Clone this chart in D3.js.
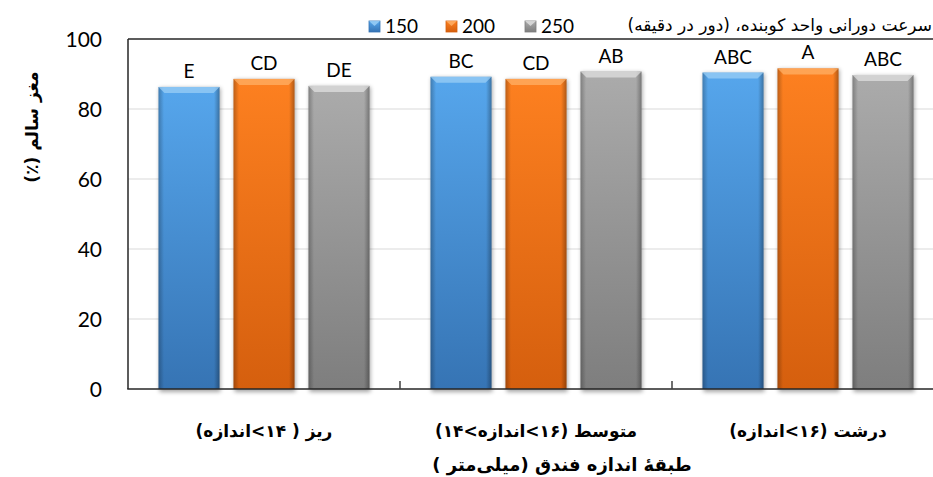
<!DOCTYPE html>
<html>
<head>
<meta charset="utf-8">
<script src="https://cdn.jsdelivr.net/npm/d3@7"></script>
<style>
  body { margin: 0; background: #fff; }
  svg { display: block; }
</style>
</head>
<body>
<div id="chart"></div>
<script>
// chart data
var categories = ["ریز ( ۱۴>اندازه)", "متوسط (۱۶>اندازه>۱۴)", "درشت (۱۶>اندازه)"];
var seriesNames = ["150", "200", "250"];
var values150 = [86.3, 89.2, 90.4];
var values200 = [88.6, 88.6, 91.6];
var values250 = [86.6, 90.7, 89.7];
var letters150 = ["E", "BC", "ABC"];
var letters200 = ["CD", "CD", "A"];
var letters250 = ["DE", "AB", "ABC"];
var yTicks = [0, 20, 40, 60, 80, 100];

var legendTitle = "سرعت دورانی واحد کوبنده، (دور در دقیقه)";
var yTitle = "مغز سالم (٪)";
var xTitle = "طبقهٔ اندازه فندق (میلی‌متر )";

var seriesValues = [values150, values200, values250];
var seriesLetters = [letters150, letters200, letters250];

// colours per series: top, bottom, bevel
var palette = [
    { top: "#56a6ec", bottom: "#3674b4", light: "#9fd2f7" },
    { top: "#fd8020", bottom: "#d55f0e", light: "#ffb36b" },
    { top: "#ababab", bottom: "#7e7e7e", light: "#e2e2e2" }
];

var width = 933, height = 477;
var margin = { left: 128, top: 39, bottom: 88 };
var plotRight = 944;   // the plot runs a bit past the picture edge

var svg = d3.select("#chart").append("svg")
    .attr("width", width)
    .attr("height", height);

var defs = svg.append("defs");

palette.forEach(function (c, i) {
    var g = defs.append("linearGradient")
        .attr("id", "vgrad" + i)
        .attr("x1", 0).attr("y1", 0).attr("x2", 0).attr("y2", 1);
    g.append("stop").attr("offset", "0%").attr("stop-color", c.top);
    g.append("stop").attr("offset", "100%").attr("stop-color", c.bottom);
});

var hg = defs.append("linearGradient")
    .attr("id", "hshade")
    .attr("x1", 0).attr("y1", 0).attr("x2", 1).attr("y2", 0);
hg.append("stop").attr("offset", "0%").attr("stop-color", "#000").attr("stop-opacity", 0.25);
hg.append("stop").attr("offset", "9%").attr("stop-color", "#000").attr("stop-opacity", 0.0);
hg.append("stop").attr("offset", "91%").attr("stop-color", "#000").attr("stop-opacity", 0.0);
hg.append("stop").attr("offset", "100%").attr("stop-color", "#000").attr("stop-opacity", 0.3);

var blur = defs.append("filter").attr("id", "shadow")
    .attr("x", "-20%").attr("y", "-5%").attr("width", "140%").attr("height", "115%");
blur.append("feGaussianBlur").attr("stdDeviation", 2);

var x0 = d3.scaleBand()
    .domain(categories)
    .range([margin.left, plotRight]);

var x1 = d3.scaleBand()
    .domain(seriesNames)
    .range([0, x0.bandwidth()])
    .paddingInner(0.187)
    .paddingOuter(0.407);

var y = d3.scaleLinear()
    .domain([0, 100])
    .range([height - margin.bottom, margin.top]);

// gridlines
svg.append("g")
    .selectAll("line")
    .data(yTicks.filter(function (d) { return d > 0 && d < 100; }))
    .enter().append("line")
    .attr("x1", margin.left).attr("x2", width)
    .attr("y1", function (d) { return y(d); })
    .attr("y2", function (d) { return y(d); })
    .attr("stroke", "#d9d9d9")
    .attr("stroke-width", 1);

// y tick labels
svg.append("g")
    .selectAll("text")
    .data(yTicks)
    .enter().append("text")
    .attr("x", 102)
    .attr("y", function (d) { return y(d); })
    .attr("dy", "0.36em")
    .attr("text-anchor", "end")
    .style("font-family", "Lato, 'Open Sans', sans-serif")
    .style("font-size", "21px")
    .style("fill", "#000")
    .text(function (d) { return d; });

// bars
var groups = svg.append("g").selectAll("g")
    .data(categories)
    .enter().append("g")
    .attr("transform", function (d) { return "translate(" + x0(d) + ",0)"; });

function barData(ci) {
    return seriesNames.map(function (s, si) {
        return { series: s, si: si, value: seriesValues[si][ci], letter: seriesLetters[si][ci] };
    });
}

groups.each(function (cat, ci) {
    var g = d3.select(this);
    var bars = barData(ci);

    // soft shadow
    g.selectAll("rect.shadow")
        .data(bars)
        .enter().append("rect")
        .attr("class", "shadow")
        .attr("x", function (d) { return x1(d.series) + 1; })
        .attr("y", function (d) { return y(d.value) + 1; })
        .attr("width", x1.bandwidth())
        .attr("height", function (d) { return y(0) - y(d.value) + 2; })
        .attr("fill", "#000")
        .attr("opacity", 0.35)
        .attr("filter", "url(#shadow)");

    g.selectAll("rect.bar")
        .data(bars)
        .enter().append("rect")
        .attr("class", "bar")
        .attr("x", function (d) { return x1(d.series); })
        .attr("y", function (d) { return y(d.value); })
        .attr("width", x1.bandwidth())
        .attr("height", function (d) { return y(0) - y(d.value); })
        .attr("fill", function (d) { return "url(#vgrad" + d.si + ")"; });

    g.selectAll("rect.edge")
        .data(bars)
        .enter().append("rect")
        .attr("class", "edge")
        .attr("x", function (d) { return x1(d.series); })
        .attr("y", function (d) { return y(d.value); })
        .attr("width", x1.bandwidth())
        .attr("height", function (d) { return y(0) - y(d.value); })
        .attr("fill", "url(#hshade)");

    // bevel on top of each bar
    g.selectAll("path.bevel")
        .data(bars)
        .enter().append("path")
        .attr("class", "bevel")
        .attr("d", function (d) {
            var xa = x1(d.series), xb = xa + x1.bandwidth(), yt = y(d.value), b = 6;
            return "M" + xa + "," + yt + "L" + xb + "," + yt + "L" + (xb - b) + "," + (yt + b) +
                "L" + (xa + b) + "," + (yt + b) + "Z";
        })
        .attr("fill", function (d) { return palette[d.si].light; })
        .attr("opacity", 0.7);

    // letters above bars
    g.selectAll("text.letter")
        .data(bars)
        .enter().append("text")
        .attr("class", "letter")
        .attr("x", function (d) { return x1(d.series) + x1.bandwidth() / 2; })
        .attr("y", function (d) { return y(d.value) - 9; })
        .attr("text-anchor", "middle")
        .style("font-family", "Lato, 'Open Sans', sans-serif")
        .style("font-size", "19px")
        .style("fill", "#000")
        .text(function (d) { return d.letter; });
});

// frame: top and left, bottom axis
svg.append("line")
    .attr("x1", margin.left).attr("x2", width)
    .attr("y1", y(100)).attr("y2", y(100))
    .attr("stroke", "#262626").attr("stroke-width", 1.5);
svg.append("line")
    .attr("x1", margin.left).attr("x2", margin.left)
    .attr("y1", y(100)).attr("y2", y(0))
    .attr("stroke", "#262626").attr("stroke-width", 1.5);
svg.append("line")
    .attr("x1", margin.left - 0.75).attr("x2", width)
    .attr("y1", y(0)).attr("y2", y(0))
    .attr("stroke", "#262626").attr("stroke-width", 1.5);

// category boundary ticks
svg.append("g").selectAll("line")
    .data(categories.slice(1))
    .enter().append("line")
    .attr("x1", function (d) { return x0(d); })
    .attr("x2", function (d) { return x0(d); })
    .attr("y1", y(0)).attr("y2", y(0) - 8)
    .attr("stroke", "#404040").attr("stroke-width", 1.5);

// category labels
svg.append("g").selectAll("text")
    .data(categories)
    .enter().append("text")
    .attr("x", function (d) { return x0(d) + x0.bandwidth() / 2; })
    .attr("y", 437)
    .attr("direction", "rtl")
    .attr("text-anchor", "middle")
    .style("font-family", "'DejaVu Sans', sans-serif")
    .style("font-weight", "bold")
    .style("font-size", "17px")
    .style("fill", "#000")
    .text(function (d) { return d; });

// x title
svg.append("text")
    .attr("x", 562)
    .attr("y", 471)
    .attr("direction", "rtl")
    .attr("text-anchor", "middle")
    .style("font-family", "'DejaVu Sans', sans-serif")
    .style("font-weight", "bold")
    .style("font-size", "18px")
    .text(xTitle);

// y title
svg.append("text")
    .attr("transform", "translate(38,127) rotate(-90)")
    .attr("direction", "rtl")
    .attr("text-anchor", "middle")
    .style("font-family", "'DejaVu Sans', sans-serif")
    .style("font-weight", "bold")
    .style("font-size", "17px")
    .text(yTitle);

// legend
var legendX = [369, 446, 525];
var legend = svg.append("g").selectAll("g")
    .data(seriesNames)
    .enter().append("g")
    .attr("transform", function (d, i) { return "translate(" + legendX[i] + ",21)"; });

legend.append("rect")
    .attr("width", 11).attr("height", 11)
    .attr("fill", function (d, i) { return "url(#vgrad" + i + ")"; })
    .attr("stroke", function (d, i) { return palette[i].bottom; })
    .attr("stroke-width", 0.8);
legend.append("path")
    .attr("d", "M0,0L11,0L5.5,5Z")
    .attr("fill", function (d, i) { return palette[i].light; })
    .attr("opacity", 0.8);
legend.append("text")
    .attr("x", 16)
    .attr("y", 5.5)
    .attr("dy", "0.36em")
    .style("font-family", "Lato, 'Open Sans', sans-serif")
    .style("font-size", "19px")
    .text(function (d) { return d; });

var lt = svg.append("text")
    .attr("x", 932)
    .attr("y", 31)
    .attr("direction", "rtl")
    .attr("text-anchor", "start")
    .style("font-family", "'DejaVu Sans', sans-serif")
    .style("font-size", "17px")
    .text(legendTitle);

// squeeze the legend title into the room the reference gives it
var ltTarget = 932 - 548;
if (lt.node().getComputedTextLength() > ltTarget) {
    lt.attr("textLength", ltTarget).attr("lengthAdjust", "spacingAndGlyphs");
}
</script>
</body>
</html>
